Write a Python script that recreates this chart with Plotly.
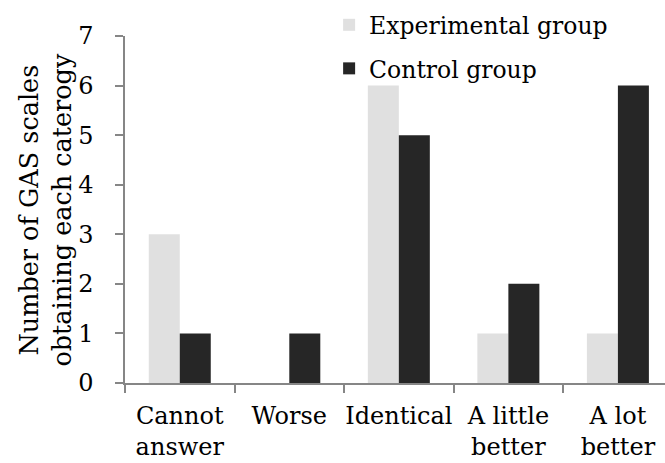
import plotly.graph_objects as go

# Outcome categories and number of GAS scales in each, per group
categories = ["Cannot<br>answer", "Worse", "Identical", "A little<br>better", "A lot<br>better"]
experimental = [3, 0, 6, 1, 1]
control = [1, 1, 5, 2, 6]
y_ticks = [0, 1, 2, 3, 4, 5, 6, 7]

FONT = "DejaVu Serif"
AXIS_GREY = "#868686"

fig = go.Figure()
fig.add_trace(go.Bar(name="Experimental group", x=categories, y=experimental,
                     legendgroup="exp",
                     marker=dict(color="#e0e0e0", line=dict(width=0))))
fig.add_trace(go.Bar(name="Control group", x=categories, y=control,
                     legendgroup="ctl",
                     marker=dict(color="#262626", line=dict(width=0))))

fig.update_layout(
    width=665, height=463,
    margin=dict(l=125, r=0, t=36, b=80, autoexpand=False),
    paper_bgcolor="white", plot_bgcolor="white",
    barmode="group", bargap=0.434, bargroupgap=0,
    font=dict(family=FONT, size=24, color="black"),
    showlegend=True,
    legend=dict(x=0.378, y=1.095, xanchor="left", yanchor="top",
                bgcolor="rgba(0,0,0,0)", font=dict(family=FONT, size=23.5),
                traceorder="grouped", tracegroupgap=10),
)

fig.update_xaxes(
    type="category", range=[-0.5, 4.43], automargin=False, tickangle=0,
    showline=True, linecolor=AXIS_GREY, linewidth=1.5,
    ticks="outside", tickson="boundaries", ticklen=8, tickcolor=AXIS_GREY, tickwidth=1.5,
    showgrid=False, ticklabelstandoff=10,
    tickfont=dict(family=FONT, size=24, color="black"),
)
fig.update_yaxes(
    range=[0, 7], tickvals=y_ticks, automargin=False,
    showline=True, linecolor=AXIS_GREY, linewidth=1.5,
    ticks="outside", ticklen=8, tickcolor=AXIS_GREY, tickwidth=1.5,
    showgrid=False, zeroline=False, ticklabelstandoff=17,
    tickfont=dict(family=FONT, size=24, color="black"),
)

fig.add_annotation(
    text="Number of GAS scales<br>obtaining each caterogy",
    xref="paper", yref="paper", x=-0.148, y=0.5,
    xanchor="center", yanchor="middle", textangle=-90, showarrow=False,
    font=dict(family=FONT, size=25.5, color="black"),
)

fig.write_html("out.html")
